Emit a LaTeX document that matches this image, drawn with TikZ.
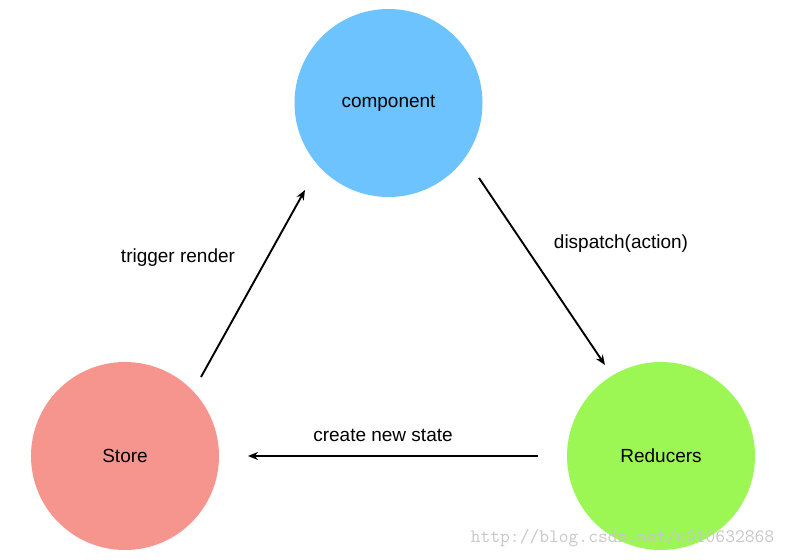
\documentclass[tikz,border=0pt]{standalone}
\usepackage{fontspec}
\setmainfont{Liberation Sans}
\usetikzlibrary{arrows.meta}
\definecolor{compblue}{RGB}{108,195,253}
\definecolor{storered}{RGB}{246,149,141}
\definecolor{redgreen}{RGB}{156,246,84}
\definecolor{wmgray}{RGB}{200,200,200}
\tikzset{
  bubble/.style={circle, minimum size=188pt, inner sep=0pt, font=\fontsize{19}{21}\selectfont},
  flow/.style={line width=1.9pt, -{Stealth[length=10pt,width=8pt]}},
  lbl/.style={font=\fontsize{19}{21}\selectfont, inner sep=0pt}
}
\begin{document}
\begin{tikzpicture}[x=1pt,y=-1pt]
\useasboundingbox[fill=white] (0,0) rectangle (789,559);
\node[bubble, fill=compblue] (comp) at (388.5,103) {component};
\node[bubble, fill=storered] (store) at (125,456) {Store};
\node[bubble, fill=redgreen] (red) at (661,456) {Reducers};
\coordinate (s1) at (201,377);
\coordinate (c1) at (305,190);
\coordinate (c2) at (479,178);
\coordinate (r1) at (605,365);
\coordinate (r2) at (538,456);
\coordinate (s2) at (248,456);
\draw[flow] (s1) -- (c1);
\draw[flow] (c2) -- (r1);
\draw[flow] (r2) -- (s2);
\node[lbl] (t1) at (178,258) {trigger render};
\node[lbl] (t2) at (621,244) {dispatch(action)};
\node[lbl] (t3) at (383,435) {create new state};
\node[font=\ttfamily\fontsize{19}{21}\selectfont, text=wmgray, inner sep=0pt] (wm) at (622.5,538) {http://blog.csdn.net/u010632868};
\end{tikzpicture}
\end{document}
